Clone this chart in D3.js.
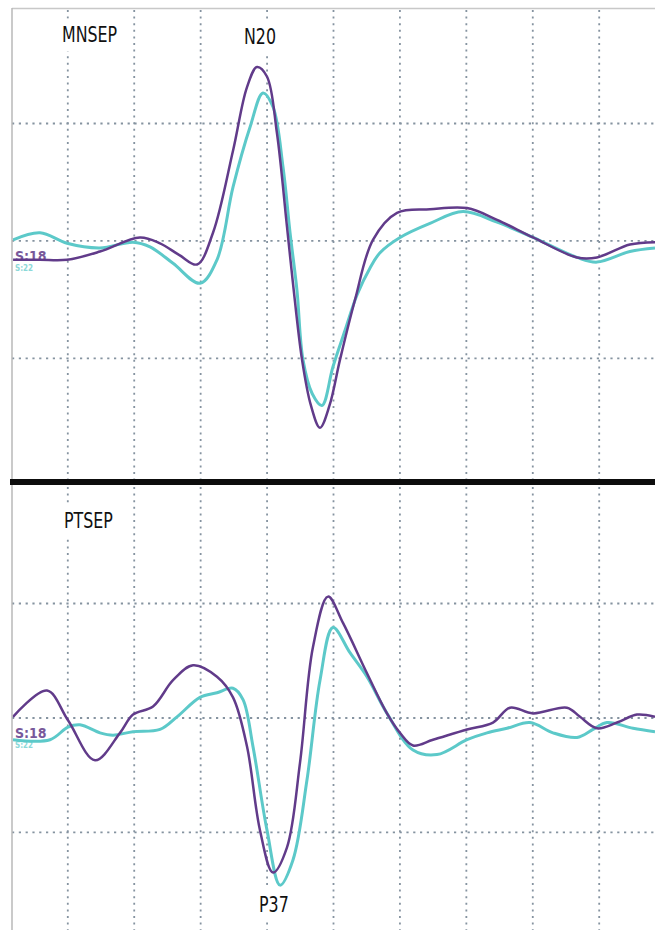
<!DOCTYPE html>
<html>
<head>
<meta charset="utf-8">
<script src="https://cdn.jsdelivr.net/npm/d3@7"></script>
<style>
  html, body { margin: 0; padding: 0; background: #fff; }
  svg { display: block; }
  .lbl { font-family: "DejaVu Sans Condensed", "Liberation Sans", sans-serif; fill: #111; }
</style>
</head>
<body>
<div id="container"></div>
<script>
// Dimensiones fijas de la figura
const WIDTH = 655;
const HEIGHT = 930;
const LEFT = 12;

// Datos: [tiempo (ms), amplitud (divisiones)]
// MNSEP (5 ms/div)
const mnsepPurple = [
  [0.88, -0.16], [2.9, -0.16], [4.94, -0.16], [7.42, -0.09], [10.43, 0.03], [11.94, -0.02],
  [13.4, -0.12], [14.73, -0.20], [15.93, 0.07], [17.44, 0.77], [18.49, 1.31], [19.24, 1.48],
  [19.99, 1.40], [20.74, 0.92], [21.50, 0.12], [21.95, -0.36], [22.63, -1.01], [23.3, -1.40],
  [23.98, -1.59], [24.7, -1.40], [25.49, -1.01], [26.62, -0.50], [27.97, 0.01], [29.78, 0.24],
  [32.26, 0.27], [35.05, 0.28], [37.31, 0.18], [40.02, 0.03], [43.33, -0.14], [44.83, -0.14],
  [47.31, -0.03], [49.20, -0.01]
];
const mnsepCyan = [
  [0.88, 0.01], [2.91, 0.07], [4.94, -0.02], [7.42, -0.06], [9.91, -0.01], [11.19, -0.05],
  [12.92, -0.19], [14.95, -0.36], [16.23, -0.16], [17.44, 0.46], [18.72, 0.97], [19.69, 1.26],
  [20.45, 1.14], [21.20, 0.63], [21.73, 0.07], [22.25, -0.42], [22.70, -1.01], [23.4, -1.30],
  [24.13, -1.40], [24.96, -1.07], [25.87, -0.76], [26.77, -0.46], [27.75, -0.23], [28.50, -0.10],
  [30.01, 0.03], [32.26, 0.15], [34.75, 0.25], [37.31, 0.16], [40.02, 0.03], [43.33, -0.14],
  [44.83, -0.18], [47.31, -0.09], [49.20, -0.06]
];
// PTSEP (10 ms/div)
const ptsepPurple = [
  [1.75, 0.01], [6.87, 0.24], [10.03, -0.02], [14.10, -0.37], [17.86, -0.13], [19.82, 0.03],
  [22.83, 0.10], [25.84, 0.33], [28.85, 0.46], [32.46, 0.36], [34.87, 0.18], [36.98, -0.25],
  [38.93, -0.98], [40.89, -1.35], [43.00, -1.13], [44.96, -0.39], [46.91, 0.62], [49.17, 1.06],
  [51.43, 0.83], [55.04, 0.39], [58.05, 0.04], [60.01, -0.13], [61.97, -0.24], [64.98, -0.19],
  [70.10, -0.10], [74.01, -0.04], [76.57, 0.09], [80.03, 0.04], [85.15, 0.09], [87.11, 0.01],
  [89.67, -0.09], [92.68, -0.04], [95.69, 0.03], [98.40, 0.01]
];
const ptsepCyan = [
  [1.75, -0.19], [7.32, -0.19], [10.03, -0.08], [11.84, -0.06], [14.85, -0.13], [16.80, -0.15],
  [19.82, -0.12], [23.88, -0.10], [26.44, 0.01], [29.90, 0.18], [32.46, 0.22], [34.87, 0.26],
  [36.38, 0.16], [37.88, -0.25], [39.99, -0.98], [41.95, -1.46], [43.90, -1.24], [46.01, -0.54],
  [47.97, 0.33], [49.92, 0.79], [52.48, 0.57], [55.04, 0.36], [58.05, 0.04], [61.97, -0.28],
  [65.58, -0.32], [70.10, -0.19], [73.11, -0.13], [76.12, -0.09], [79.58, -0.04], [83.04, -0.13],
  [86.66, -0.17], [89.07, -0.10], [91.17, -0.04], [95.09, -0.09], [98.40, -0.12]
];

// Líneas de grilla
const mnsepGridX = [5, 10, 15, 20, 25, 30, 35, 40, 45];
const ptsepGridX = [10, 20, 30, 40, 50, 60, 70, 80, 90];
const gridY = [-1, 0, 1];

const PURPLE = '#613b8a';
const CYAN = '#5cc9c9';
const GRID = '#8593a0';

const svg = d3.select('#container')
              .append('svg')
                .attr('width', WIDTH)
                .attr('height', HEIGHT);

svg.append('rect').attr('width', WIDTH).attr('height', HEIGHT).attr('fill', '#fff');

// Paneles: escalas propias para cada uno
const panels = [
  {
    name: 'MNSEP', peak: 'N20',
    x: d3.scaleLinear().domain([0.8, 49.2]).range([LEFT, WIDTH]),
    y: d3.scaleLinear().domain([-2.026, 1.983]).range([479, 8]),
    gridX: mnsepGridX, purple: mnsepPurple, cyan: mnsepCyan,
    top: 8, bottom: 479
  },
  {
    name: 'PTSEP', peak: 'P37',
    x: d3.scaleLinear().domain([1.6, 98.4]).range([LEFT, WIDTH]),
    y: d3.scaleLinear().domain([-1.852, 2.035]).range([930, 485]),
    gridX: ptsepGridX, purple: ptsepPurple, cyan: ptsepCyan,
    top: 485, bottom: 930
  }
];

panels.forEach((p, i) => {
  const g = svg.append('g');

  // Grilla punteada
  g.selectAll('.vgrid')
   .data(p.gridX)
   .enter()
   .append('line')
     .attr('x1', d => p.x(d)).attr('x2', d => p.x(d))
     .attr('y1', p.top + 2).attr('y2', p.bottom)
     .attr('stroke', GRID)
     .attr('stroke-width', 1.8)
     .attr('stroke-dasharray', '2,4.6');

  g.selectAll('.hgrid')
   .data(gridY)
   .enter()
   .append('line')
     .attr('x1', LEFT).attr('x2', WIDTH)
     .attr('y1', d => p.y(d)).attr('y2', d => p.y(d))
     .attr('stroke', GRID)
     .attr('stroke-width', 1.8)
     .attr('stroke-dasharray', '2.2,4.6');

  // Etiquetas con fondo blanco (letra angosta)
  const labels = i === 0
    ? [{ t: p.name, x: 62, y: 42 }, { t: p.peak, x: 244, y: 44 }]
    : [{ t: p.name, x: 64, y: 528 }, { t: p.peak, x: 259, y: 912 }];

  labels.forEach(l => {
    const lg = g.append('g')
                .attr('transform', `translate(${l.x},${l.y}) scale(0.86,1)`);
    const txt = lg.append('text')
                  .attr('class', 'lbl')
                  .attr('font-size', 20.5)
                  .text(l.t);
    const bb = txt.node().getBBox();
    lg.insert('rect', 'text')
      .attr('x', bb.x - 7).attr('y', bb.y - 4)
      .attr('width', bb.width + 14).attr('height', bb.height + 8)
      .attr('fill', '#fff');
  });

  const line = d3.line()
                 .x(d => p.x(d[0]))
                 .y(d => p.y(d[1]))
                 .curve(d3.curveCatmullRom.alpha(0.5));

  // Marcas de estímulo
  g.append('text')
   .attr('x', 15).attr('y', p.y(0) + 30)
   .attr('font-family', 'DejaVu Sans Condensed, sans-serif')
   .attr('font-size', 8).attr('font-weight', 'bold')
   .attr('fill', CYAN).attr('opacity', 0.7)
   .text('S:22');
  g.append('text')
   .attr('x', 15).attr('y', p.y(0) + 20)
   .attr('font-family', 'DejaVu Sans Condensed, sans-serif')
   .attr('font-size', 14).attr('font-weight', 'bold')
   .attr('fill', PURPLE).attr('opacity', 0.85)
   .text('S:18');

  g.append('path')
   .attr('d', line(p.cyan))
   .attr('fill', 'none')
   .attr('stroke', CYAN)
   .attr('stroke-width', 3)
   .attr('stroke-linejoin', 'round');

  g.append('path')
   .attr('d', line(p.purple))
   .attr('fill', 'none')
   .attr('stroke', PURPLE)
   .attr('stroke-width', 2.5)
   .attr('stroke-linejoin', 'round');
});

// Marco: borde superior y borde izquierdo
svg.append('line')
   .attr('x1', LEFT).attr('x2', WIDTH).attr('y1', 8.5).attr('y2', 8.5)
   .attr('stroke', '#c8c8c8').attr('stroke-width', 1.5);
svg.append('line')
   .attr('x1', LEFT).attr('x2', LEFT).attr('y1', 8).attr('y2', HEIGHT)
   .attr('stroke', '#b8b8b8').attr('stroke-width', 1.5);

// Separador grueso entre paneles
svg.append('rect')
   .attr('x', LEFT - 2).attr('y', 479)
   .attr('width', WIDTH - LEFT + 2).attr('height', 6)
   .attr('fill', '#0d0d0d');
</script>
</body>
</html>
